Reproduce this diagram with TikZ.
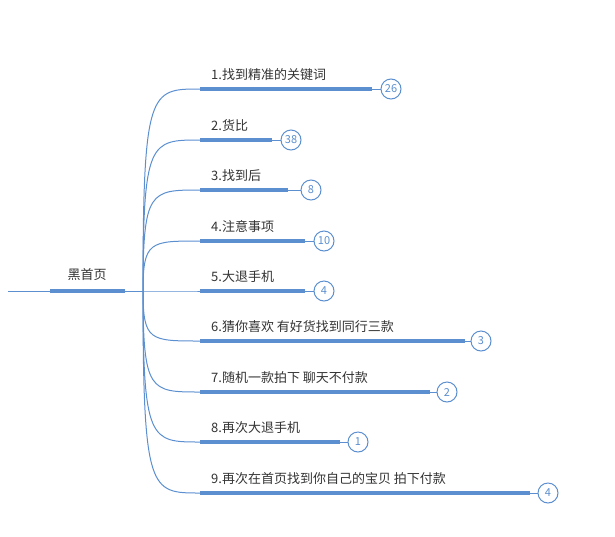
\documentclass[tikz,border=0pt]{standalone}
\usepackage{fontspec}
\setmainfont{Noto Sans CJK SC}
\begin{document}
\begin{tikzpicture}[x=1pt,y=-1pt,
  thin line/.style={draw=lb,line width=1pt},
  bar/.style={draw=lb,line width=3.5pt},
  cnt/.style={circle,draw=lb,line width=1pt,fill=white,minimum size=20pt,inner sep=0pt,text=lb,font=\fontsize{11}{11}\selectfont},
  lbl/.style={anchor=south west,inner sep=0pt,font=\fontsize{13}{14}\selectfont,text=black!80}]
\definecolor{lb}{HTML}{5B8FD0}
\useasboundingbox (0,0) rectangle (615,536);
\coordinate (r0) at (8,291);
\coordinate (hub) at (143,291);
\coordinate (rb1) at (50,291);
\coordinate (rb2) at (125,291);
\draw[thin line] (r0) -- (hub);
\draw[bar] (rb1) -- (rb2);
\node[lbl,anchor=south] (root) at (87,281) {黑首页};
\foreach \i/\y/\e/\c/\n/\t in {
 1/89/372/391/26/{1.找到精准的关键词},
 2/140/272/291/38/{2.货比},
 3/190/288/311/8/{3.找到后},
 4/241/305/324/10/{4.注意事项},
 5/291/305/324/4/{5.大退手机},
 6/341/465/481/3/{6.猜你喜欢 有好货找到同行三款},
 7/392/430/447/2/{7.随机一款拍下 聊天不付款},
 8/442/340/358/1/{8.再次大退手机},
 9/493/530/548/4/{9.再次在首页找到你自己的宝贝 拍下付款}}{
  \coordinate (s\i) at (200,\y);
  \coordinate (e\i) at (\e,\y);
  \draw[thin line] (hub) .. controls (143,\y) and (150,\y) .. (s\i);
  \draw[bar] (s\i) -- (e\i);
  \node[cnt] (c\i) at (\c,\y) {\n};
  \draw[thin line] (e\i) -- (c\i);
  \node[lbl] (t\i) at (211,\y-8) {\t};
}
\end{tikzpicture}
\end{document}
